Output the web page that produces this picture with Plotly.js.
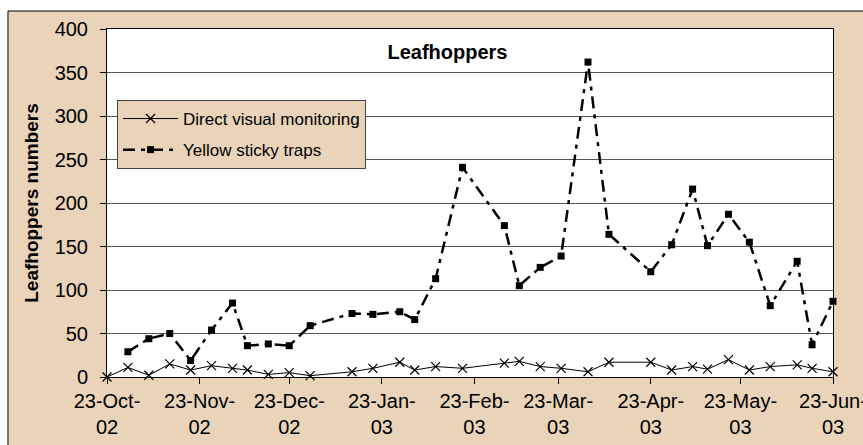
<!DOCTYPE html>
<html>
<head>
<meta charset="utf-8">
<script src="https://cdn.plot.ly/plotly-3.0.1.min.js"></script>
<style>
  html, body { margin: 0; padding: 0; background: #ffffff; }
  #chart { width: 863px; height: 445px; }
</style>
</head>
<body>
<div id="chart"></div>
<script>
// Sampling dates
const sampleDates = [
  '2002-10-23','2002-10-30','2002-11-06','2002-11-13','2002-11-20','2002-11-27',
  '2002-12-04','2002-12-09','2002-12-16','2002-12-23','2002-12-30','2003-01-13',
  '2003-01-20','2003-01-29','2003-02-03','2003-02-10','2003-02-19','2003-03-05',
  '2003-03-10','2003-03-17','2003-03-24','2003-04-02','2003-04-09','2003-04-23',
  '2003-04-30','2003-05-07','2003-05-12','2003-05-19','2003-05-26','2003-06-02',
  '2003-06-11','2003-06-16','2003-06-23'
];
// Direct visual monitoring counts
const directVisual = [
  0, 11, 2, 15, 8, 13,
  10, 8, 3, 5, 1.5, 6,
  10, 17, 8, 12, 10, 16,
  18, 12, 10, 6, 17, 17,
  8, 12, 9, 20, 8, 12,
  14, 10, 6
];
// Yellow sticky traps counts (no trap reading on first date)
const yellowTraps = [
  null, 29, 44, 50, 19, 54,
  85, 36, 38, 36, 59, 73,
  72, 75, 66, 113, 241, 174,
  105, 126, 139, 362, 164, 121,
  152, 216, 151, 187, 155, 82,
  133, 37, 87
];
// X-axis ticks
const tickDates = ['2002-10-23','2002-11-23','2002-12-23','2003-01-23','2003-02-23',
                   '2003-03-23','2003-04-23','2003-05-23','2003-06-23'];
const tickLabels = ['23-Oct-<br>02','23-Nov-<br>02','23-Dec-<br>02','23-Jan-<br>03','23-Feb-<br>03',
                    '23-Mar-<br>03','23-Apr-<br>03','23-May-<br>03','23-Jun-<br>03'];

const FONT = 'Liberation Sans, Arial, sans-serif';
const TAN = 'rgb(233,211,185)';

const traces = [
  {
    x: sampleDates, y: directVisual, name: 'Direct visual monitoring',
    type: 'scatter', mode: 'lines+markers',
    line: { color: '#000000', width: 1 },
    marker: { symbol: 'x-thin-open', size: 9, color: '#000000', line: { color: '#000000', width: 1.2 } },
    legendgroup: 'a', cliponaxis: false
  },
  {
    x: sampleDates, y: yellowTraps, name: 'Yellow sticky traps',
    type: 'scatter', mode: 'lines+markers',
    line: { color: '#000000', width: 2.5, dash: '12px,6px,4px,6px' },
    marker: { symbol: 'square', size: 7, color: '#000000' },
    legendgroup: 'b', cliponaxis: false
  }
];

const layout = {
  width: 863, height: 445,
  margin: { l: 107, r: 30, t: 29, b: 68, pad: 0 },
  paper_bgcolor: 'rgba(0,0,0,0)',
  plot_bgcolor: '#ffffff',
  font: { family: FONT, color: '#000000', size: 20 },
  title: {
    text: '<b>Leafhoppers</b>',
    font: { family: FONT, size: 20, color: '#000000' },
    xref: 'paper', x: 0.469, xanchor: 'center',
    yref: 'container', y: 0.883, yanchor: 'middle'
  },
  xaxis: {
    type: 'date',
    range: ['2002-10-23', '2003-06-23'],
    tickmode: 'array', tickvals: tickDates, ticktext: tickLabels,
    ticks: 'outside', ticklen: 6, tickcolor: '#000000', tickwidth: 1,
    showline: true, linecolor: '#000000', linewidth: 1, mirror: true,
    showgrid: false, zeroline: false,
    tickfont: { family: FONT, size: 20, color: '#000000' },
    tickangle: 0,
    ticklabeloverflow: 'allow'
  },
  yaxis: {
    range: [0, 400], dtick: 50, tick0: 0,
    ticks: 'outside', ticklen: 6, tickcolor: '#000000', tickwidth: 1,
    showline: true, linecolor: '#000000', linewidth: 1, mirror: true,
    showgrid: true, gridcolor: '#555555', gridwidth: 1,
    zeroline: false,
    tickfont: { family: FONT, size: 20, color: '#000000' },
    ticklabelstandoff: 8,
    title: {
      text: '<b>Leafhoppers numbers</b>',
      font: { family: FONT, size: 19, color: '#000000' },
      standoff: 10
    }
  },
  showlegend: true,
  legend: {
    x: 0.0138, y: 0.796, xanchor: 'left', yanchor: 'top',
    xref: 'paper', yref: 'paper',
    bgcolor: TAN, bordercolor: '#444444', borderwidth: 1,
    font: { family: FONT, size: 17, color: '#000000' },
    traceorder: 'grouped', tracegroupgap: 6,
    itemwidth: 55
  },
  shapes: [
    { type: 'rect', xref: 'paper', yref: 'paper', layer: 'below',
      x0: -0.1364, x1: 1.06, y0: -0.21, y1: 1.0517,
      fillcolor: TAN, line: { color: '#000000', width: 1 } },
    { type: 'rect', xref: 'paper', yref: 'paper', layer: 'below',
      x0: 0, x1: 1, y0: 0, y1: 1,
      fillcolor: '#ffffff', line: { width: 0 } }
  ]
};

Plotly.newPlot('chart', traces, layout, { staticPlot: true, displayModeBar: false });
</script>
</body>
</html>
